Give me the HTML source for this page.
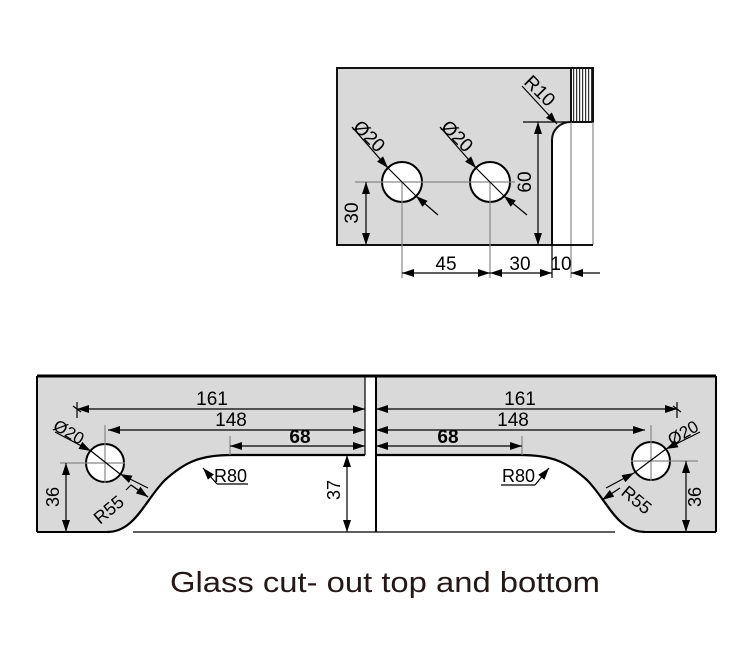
<!DOCTYPE html>
<html><head><meta charset="utf-8"><style>
html,body{margin:0;padding:0;background:#fff;}
svg{display:block;font-family:"Liberation Sans",Arial,sans-serif;}
</style></head><body>
<svg width="752" height="646" viewBox="0 0 752 646" xmlns="http://www.w3.org/2000/svg">
<defs>
<marker id="a" viewBox="0 0 12 8" refX="12" refY="4" markerWidth="13" markerHeight="8" markerUnits="userSpaceOnUse" orient="auto-start-reverse"><path d="M0,0 L12,4 L0,8 Z" fill="#000"/></marker>
<pattern id="h" width="3" height="10" patternUnits="userSpaceOnUse"><rect width="3" height="10" fill="#fff"/><rect width="1.2" height="10" fill="#333"/></pattern>
</defs>
<g stroke-width="1.2">
<!-- TOP DRAWING -->
<path d="M337,68 H571 V122 C560,122 552,130 552,140 V245 H337 Z" fill="#d9d9d9" stroke="#111" stroke-width="2"/>
<rect x="571" y="68" width="22" height="54" fill="url(#h)" stroke="#111" stroke-width="2"/>
<line x1="571" y1="122" x2="571" y2="278" stroke="#888"/>
<line x1="593" y1="122" x2="593" y2="245" stroke="#888"/>
<line x1="552" y1="245" x2="593" y2="245" stroke="#111" stroke-width="2"/>
<line x1="552" y1="140" x2="552" y2="278" stroke="#000"/>
<line x1="523" y1="122" x2="571" y2="122" stroke="#000"/>
<circle cx="402" cy="182" r="20" fill="#fff" stroke="#000" stroke-width="2"/>
<circle cx="490" cy="182" r="20" fill="#fff" stroke="#000" stroke-width="2"/>
<line x1="355" y1="182" x2="515" y2="182" stroke="#888"/>
<line x1="402" y1="182" x2="402" y2="278" stroke="#888"/>
<line x1="490" y1="182" x2="490" y2="278" stroke="#888"/>
<line x1="352" y1="127" x2="388" y2="168" stroke="#000" marker-end="url(#a)"/>
<line x1="438" y1="215" x2="416" y2="196" stroke="#000" marker-end="url(#a)"/>
<line x1="388" y1="168" x2="416" y2="196" stroke="#000"/>
<line x1="440" y1="127" x2="476" y2="168" stroke="#000" marker-end="url(#a)"/>
<line x1="527" y1="215" x2="504" y2="196" stroke="#000" marker-end="url(#a)"/>
<line x1="476" y1="168" x2="504" y2="196" stroke="#000"/>
<text x="352" y="128" font-size="19" transform="rotate(45 352 128)">Ø20</text>
<text x="440" y="128" font-size="19" transform="rotate(45 440 128)">Ø20</text>
<line x1="522" y1="86" x2="557" y2="124" stroke="#000" marker-end="url(#a)"/>
<text x="523" y="83" font-size="19" transform="rotate(45 523 83)">R10</text>
<line x1="366" y1="182" x2="366" y2="245" stroke="#000" marker-start="url(#a)" marker-end="url(#a)"/>
<text x="358" y="213" font-size="19" text-anchor="middle" transform="rotate(-90 358 213)">30</text>
<line x1="538" y1="122" x2="538" y2="245" stroke="#000" marker-start="url(#a)" marker-end="url(#a)"/>
<text x="531" y="182" font-size="19" text-anchor="middle" transform="rotate(-90 531 182)">60</text>
<line x1="402" y1="273" x2="490" y2="273" stroke="#000" marker-start="url(#a)" marker-end="url(#a)"/>
<line x1="490" y1="273" x2="552" y2="273" stroke="#000" marker-start="url(#a)" marker-end="url(#a)"/>
<line x1="600" y1="273" x2="571" y2="273" stroke="#000" marker-end="url(#a)"/>
<text x="446" y="270" font-size="19" text-anchor="middle">45</text>
<text x="520" y="270" font-size="19" text-anchor="middle">30</text>
<text x="561" y="270" font-size="19" text-anchor="middle">10</text>

<!-- BOTTOM DRAWING -->
<path d="M37,376 H365 V455 H232 C200,455 185,462 165,480 C145,500 135,532 107,532 H37 Z" fill="#d9d9d9"/>
<path d="M376,376 H716 V532 H645 C617,532 607,500 587,480 C567,462 552,455 520,455 H376 Z" fill="#d9d9d9"/>
<path d="M107,532 C135,532 145,500 165,480 C185,462 200,455 232,455 H365" fill="none" stroke="#000" stroke-width="2.2"/>
<path d="M645,532 C617,532 607,500 587,480 C567,462 552,455 520,455 H376" fill="none" stroke="#000" stroke-width="2.2"/>
<line x1="37" y1="376" x2="716" y2="376" stroke="#000" stroke-width="3"/>
<line x1="37" y1="376" x2="37" y2="532" stroke="#000" stroke-width="2"/>
<line x1="716" y1="376" x2="716" y2="532" stroke="#000" stroke-width="2"/>
<line x1="37" y1="532" x2="107" y2="532" stroke="#000" stroke-width="2"/>
<line x1="645" y1="532" x2="716" y2="532" stroke="#000" stroke-width="2"/>
<line x1="133" y1="532" x2="615" y2="532" stroke="#000"/>
<line x1="365" y1="376" x2="365" y2="455" stroke="#000"/>
<line x1="376" y1="376" x2="376" y2="532" stroke="#000" stroke-width="2"/>
<circle cx="105" cy="463" r="19" fill="#fff" stroke="#000" stroke-width="2"/>
<circle cx="651" cy="461" r="19" fill="#fff" stroke="#000" stroke-width="2"/>
<line x1="60" y1="463" x2="125" y2="463" stroke="#888"/>
<line x1="105" y1="425" x2="105" y2="483" stroke="#888"/>
<line x1="631" y1="461" x2="698" y2="461" stroke="#888"/>
<line x1="651" y1="425" x2="651" y2="481" stroke="#888"/>
<line x1="77" y1="402" x2="77" y2="418" stroke="#000"/>
<line x1="73" y1="406" x2="81" y2="412" stroke="#000"/>
<line x1="77" y1="409" x2="365" y2="409" stroke="#000" marker-start="url(#a)" marker-end="url(#a)"/>
<line x1="376" y1="409" x2="677" y2="409" stroke="#000" marker-start="url(#a)" marker-end="url(#a)"/>
<line x1="677" y1="402" x2="677" y2="418" stroke="#000"/>
<line x1="673" y1="406" x2="681" y2="412" stroke="#000"/>
<text x="212" y="405" font-size="19" text-anchor="middle">161</text>
<text x="520" y="405" font-size="19" text-anchor="middle">161</text>
<line x1="108" y1="430" x2="365" y2="430" stroke="#000" marker-start="url(#a)" marker-end="url(#a)"/>
<line x1="376" y1="430" x2="645" y2="430" stroke="#000" marker-start="url(#a)" marker-end="url(#a)"/>
<text x="231" y="426" font-size="19" text-anchor="middle">148</text>
<text x="513" y="426" font-size="19" text-anchor="middle">148</text>
<line x1="230" y1="436" x2="230" y2="455" stroke="#888"/>
<line x1="522" y1="436" x2="522" y2="455" stroke="#888"/>
<line x1="230" y1="446" x2="365" y2="446" stroke="#000" marker-start="url(#a)" marker-end="url(#a)"/>
<line x1="376" y1="446" x2="522" y2="446" stroke="#000" marker-start="url(#a)" marker-end="url(#a)"/>
<text x="300" y="443" font-size="19" text-anchor="middle" font-weight="bold">68</text>
<text x="448" y="443" font-size="19" text-anchor="middle" font-weight="bold">68</text>
<line x1="55" y1="432" x2="91" y2="451" stroke="#000" marker-end="url(#a)"/>
<line x1="148" y1="488" x2="120" y2="474" stroke="#000" marker-end="url(#a)"/>
<line x1="91" y1="451" x2="120" y2="474" stroke="#000"/>
<text x="52" y="429" font-size="17" transform="rotate(30 52 429)">Ø20</text>
<line x1="700" y1="432" x2="666" y2="449" stroke="#000" marker-end="url(#a)"/>
<line x1="606" y1="488" x2="634" y2="473" stroke="#000" marker-end="url(#a)"/>
<line x1="634" y1="473" x2="666" y2="449" stroke="#000"/>
<text x="672" y="446" font-size="17" transform="rotate(-30 672 446)">Ø20</text>
<text x="100" y="525" font-size="18" transform="rotate(-40 100 525)">R55</text>
<polyline points="126,490 131,485 148,497" fill="none" stroke="#000"/>
<line x1="131" y1="485" x2="148" y2="497" stroke="#000" marker-end="url(#a)"/>
<text x="620" y="494" font-size="18" transform="rotate(40 620 494)">R55</text>
<line x1="620" y1="488" x2="602" y2="500" stroke="#000" marker-end="url(#a)"/>
<line x1="248" y1="484" x2="217" y2="484" stroke="#000"/>
<line x1="217" y1="484" x2="203" y2="468" stroke="#000" marker-end="url(#a)"/>
<text x="214" y="482" font-size="18">R80</text>
<line x1="501" y1="485" x2="535" y2="485" stroke="#000"/>
<line x1="535" y1="485" x2="549" y2="468" stroke="#000" marker-end="url(#a)"/>
<text x="502" y="482" font-size="18">R80</text>
<line x1="66" y1="463" x2="66" y2="532" stroke="#000" marker-start="url(#a)" marker-end="url(#a)"/>
<text x="59" y="497" font-size="18" text-anchor="middle" transform="rotate(-90 59 497)">36</text>
<line x1="686" y1="461" x2="686" y2="532" stroke="#000" marker-start="url(#a)" marker-end="url(#a)"/>
<text x="701" y="497" font-size="18" text-anchor="middle" transform="rotate(-90 701 497)">36</text>
<line x1="347" y1="455" x2="347" y2="532" stroke="#000" marker-start="url(#a)" marker-end="url(#a)"/>
<text x="340" y="490" font-size="18" text-anchor="middle" transform="rotate(-90 340 490)">37</text>
</g>
<text x="170" y="592" font-size="29" fill="#231815" textLength="430" lengthAdjust="spacingAndGlyphs">Glass cut- out top and bottom</text>
</svg>
</body></html>
